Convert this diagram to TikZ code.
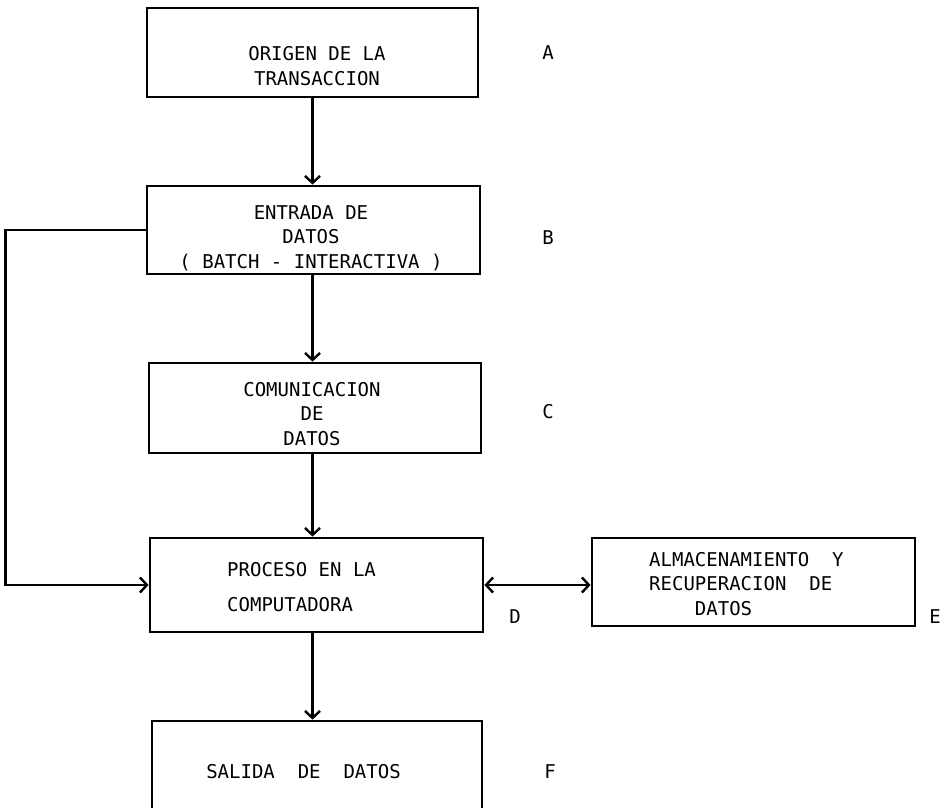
\documentclass[tikz,border=0pt]{standalone}
\usepackage{fontspec}
\setmainfont{DejaVu Sans Mono}
\usetikzlibrary{arrows.meta}
\begin{document}
\begin{tikzpicture}[x=1bp,y=-1bp,
  box/.style={draw, line width=2.8bp, inner sep=0, minimum width=#1},
  box/.default=332bp,
  txt/.style={inner sep=0, font=\fontsize{19bp}{24.5bp}\selectfont},
  lbl/.style={inner sep=0, font=\fontsize{19bp}{24bp}\selectfont},
  arr/.style={line width=2.4bp, -{Straight Barb[length=7bp,width=15bp,line width=2.4bp]}},
  darr/.style={line width=2.4bp, {Straight Barb[length=7bp,width=15bp,line width=2.4bp]}-{Straight Barb[length=7bp,width=15bp,line width=2.4bp]}}
]
\useasboundingbox (0,0) rectangle (948,808);
% boxes
\node[box=331bp, minimum height=89bp] (A) at (312.5,52.5) {};
\node[box=333bp, minimum height=88bp] (B) at (313.5,230) {};
\node[box=332bp, minimum height=90bp] (C) at (315,408) {};
\node[box=333bp, minimum height=94bp] (D) at (316.5,585) {};
\node[box=323bp, minimum height=88bp] (E) at (753.5,582) {};
\node[box=330bp, minimum height=100bp] (F) at (317,771) {};
% texts
\node[txt, align=center] (At) at (317,66) {ORIGEN DE LA\\TRANSACCION};
\node[txt, align=center] (Bt) at (311,238) {ENTRADA DE\\DATOS\\( BATCH - INTERACTIVA )};
\node[txt, align=center] (Ct) at (312,414) {COMUNICACION\\DE\\DATOS};
\node[txt, align=left, anchor=west] (Dt) at (227,587) {PROCESO EN LA\\[11bp]COMPUTADORA};
\node[txt, align=left, anchor=west] (Et) at (649,584) {ALMACENAMIENTO\ \ Y\\RECUPERACION\ \ DE\\\hphantom{XXXX}DATOS};
\node[txt] (Ft) at (303.5,772) {SALIDA\ \ DE\ \ DATOS};
% labels
\node[lbl] (la) at (548,53) {A};
\node[lbl] (lb) at (548,238) {B};
\node[lbl] (lc) at (548,412) {C};
\node[lbl] (ld) at (515,617) {D};
\node[lbl] (le) at (935,617) {E};
\node[lbl] (lf) at (550,772) {F};
% connectors
\draw[arr] (A.south) -- (A.south |- B.north);
\draw[arr] (A.south |- B.south) -- (A.south |- C.north);
\draw[arr] (A.south |- C.south) -- (A.south |- D.north);
\draw[arr] (A.south |- D.south) -- (A.south |- F.north);
\draw[arr] (B.west) -- ++(-140,0) |- (D.west);
\draw[darr] (D.east) -- (D.east -| E.west);
\end{tikzpicture}
\end{document}
